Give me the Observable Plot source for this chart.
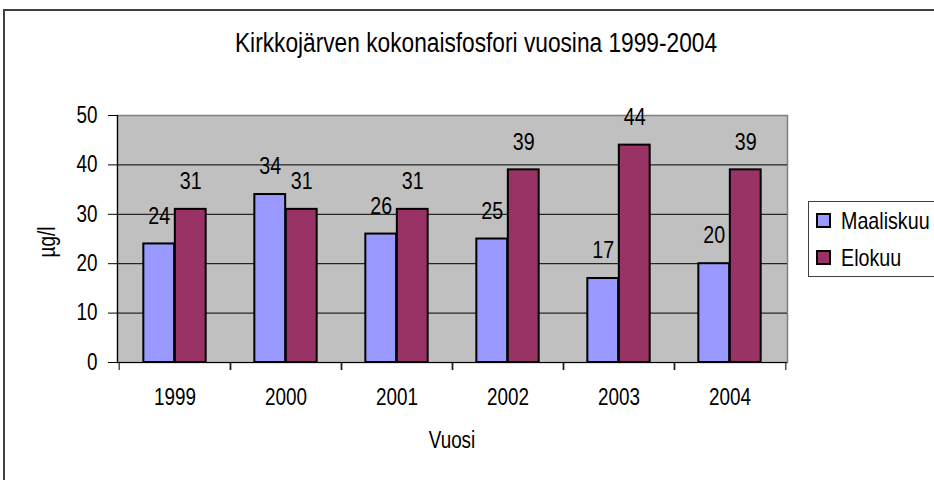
<!DOCTYPE html>
<html>
<head>
<meta charset="utf-8">
<script src="https://cdn.jsdelivr.net/npm/d3@7"></script>
<script src="https://cdn.jsdelivr.net/npm/@observablehq/plot@0.6"></script>
<style>
  html, body { margin: 0; padding: 0; background: #fff; overflow: hidden; }
  body { width: 934px; height: 480px; position: relative; font-family: "Liberation Sans", Arial, sans-serif; color: #000; }
  #outer { position: absolute; left: 3px; top: 9px; width: 1000px; height: 600px;
           border: 2px solid #404040; box-sizing: border-box; }
  .t { position: absolute; white-space: nowrap; line-height: 1; }
  #title { left: 0; top: 29px; width: 952px; text-align: center; font-size: 27.7px; transform: scaleX(0.82); transform-origin: 476px 0; }
  #xlab { left: 352px; top: 429px; width: 200px; text-align: center; font-size: 23px; transform: scaleX(0.82); }
  #ylab { left: 0px; top: 230px; width: 100px; text-align: center; font-size: 23px; transform-origin: 50px 11px;
          transform: translate(-3px, 1px) rotate(-90deg) scaleX(0.82); }
  #chart { position: absolute; left: 0; top: 0; }
  #legend { position: absolute; left: 808px; top: 201px; width: 200px; height: 76px;
            border: 1px solid #404040; box-sizing: border-box; background: #fff; }
  .item { position: absolute; left: 7px; height: 24px; font-size: 24px; line-height: 24px; }
  .sw { position: absolute; left: 0; top: 4px; width: 15px; height: 15px; border: 2px solid #000; box-sizing: border-box; }
  .lab { position: absolute; left: 25px; top: 0; white-space: nowrap; transform: scaleX(0.82); transform-origin: 0 0; }
</style>
</head>
<body>
<div id="outer"></div>
<div id="chart"></div>
<div id="title" class="t">Kirkkojärven kokonaisfosfori vuosina 1999-2004</div>
<div id="xlab" class="t">Vuosi</div>
<div id="ylab" class="t">µg/l</div>
<div id="legend"></div>
<script>
// ---- data ----
const years = ["1999", "2000", "2001", "2002", "2003", "2004"];
const maaliskuu = [24, 34, 26, 25, 17, 20];
const elokuu = [31, 31, 31, 39, 44, 39];
const seriesNames = ["Maaliskuu", "Elokuu"];
const seriesColors = ["#9999FF", "#993366"];
const yTicks = [0, 10, 20, 30, 40, 50];
const gridValues = [10, 20, 30, 40];

// ---- layout ----
const W = 934, H = 480;
const mL = 117, mR = 147, mT = 115, mB = 118;
const band = (W - mL - mR) / years.length;
const barW = 31.5;
const outerGap = (band - 2 * barW) / 2;
const narrow = 0.82;

const mData = years.map((y, i) => ({year: y, value: maaliskuu[i]}));
const eData = years.map((y, i) => ({year: y, value: elokuu[i]}));

const chart = Plot.plot({
  width: W, height: H,
  marginLeft: mL, marginRight: mR, marginTop: mT, marginBottom: mB,
  style: {fontFamily: '"Liberation Sans", Arial, sans-serif', fontSize: "23px", background: "transparent", color: "#000", overflow: "visible"},
  x: {domain: years, padding: 0, axis: null},
  y: {domain: [0, 50], axis: null},
  marks: [
    Plot.frame({fill: "#C0C0C0", stroke: "#808080", strokeWidth: 1.5}),
    Plot.ruleY(gridValues, {stroke: "#000", strokeWidth: 1}),
    Plot.barY(mData, {x: "year", y: "value", fill: seriesColors[0], stroke: "#000", strokeWidth: 2,
                      insetLeft: outerGap, insetRight: outerGap + barW}),
    Plot.barY(eData, {x: "year", y: "value", fill: seriesColors[1], stroke: "#000", strokeWidth: 2,
                      insetLeft: outerGap + barW, insetRight: outerGap}),
    Plot.frame({anchor: "left", stroke: "#000", strokeWidth: 1.2}),
    Plot.ruleY([0], {stroke: "#000", strokeWidth: 1.2}),
    Plot.axisY({ticks: yTicks, tickSize: 9, tickPadding: 11, fontSize: 23, label: null}),
    Plot.axisX({tickSize: 0, tickPadding: 26, fontSize: 23, label: null}),
    Plot.axisX({tickSize: 8, dx: -band / 2, tickFormat: () => "", label: null}),
    Plot.axisX({tickSize: 8, dx: band / 2, tickFormat: () => "", label: null}),
    Plot.text(mData, {x: "year", y: "value", text: "value", dx: -(barW / 2), dy: -28, fontSize: 24, fill: "#000"}),
    Plot.text(eData, {x: "year", y: "value", text: "value", dx: barW / 2, dy: -28, fontSize: 24, fill: "#000"})
  ]
});
document.getElementById("chart").appendChild(chart);

// condense SVG text horizontally (Arial Narrow look)
chart.querySelectorAll("text").forEach(t => {
  const bb = t.getBBox();
  const anchor = getComputedStyle(t).textAnchor;
  const ax = anchor === "middle" ? bb.x + bb.width / 2 : anchor === "end" ? bb.x + bb.width : bb.x;
  const tr = t.getAttribute("transform") || "";
  t.setAttribute("transform", `${tr} translate(${ax},0) scale(${narrow},1) translate(${-ax},0)`);
});

// legend
const legend = document.getElementById("legend");
seriesNames.forEach((name, i) => {
  const item = document.createElement("div");
  item.className = "item";
  item.style.top = (7 + i * 37) + "px";
  item.innerHTML = `<div class="sw" style="background:${seriesColors[i]}"></div><div class="lab">${name}</div>`;
  legend.appendChild(item);
});
</script>
</body>
</html>
